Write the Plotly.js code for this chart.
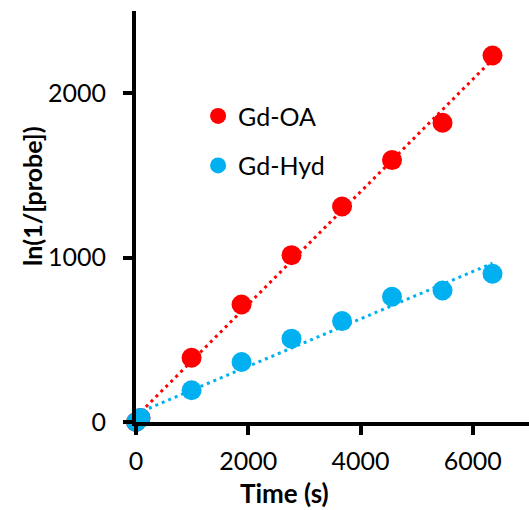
<!DOCTYPE html>
<html>
<head>
<meta charset="utf-8">
<script src="https://cdn.plot.ly/plotly-3.0.1.min.js"></script>
<style>html,body{margin:0;padding:0;background:#fff;}#chart{width:529px;height:510px;}</style>
</head>
<body>
<div id="chart"></div>
<script>
// Data
const timeS = [0, 80, 990, 1880, 2770, 3670, 4560, 5460, 6350];
const gdOA  = [0, 25, 391, 715, 1015, 1311, 1593, 1820, 2229];
const gdHyd = [0, 25, 193, 365, 507, 614, 762, 800, 902];
const seriesNames = ['Gd-OA', 'Gd-Hyd'];
const seriesColors = ['#FF0000', '#00B0F0'];
const xTicks = [0, 2000, 4000, 6000];
const yTicks = [0, 1000, 2000];
const xTitle = 'Time (s)';
const yTitle = 'ln(1/[probe])';

// Linear least-squares trendline computed from the data (as Excel does)
function fit(xs, ys) {
  const n = xs.length;
  let sx = 0, sy = 0, sxx = 0, sxy = 0;
  for (let i = 0; i < n; i++) { sx += xs[i]; sy += ys[i]; sxx += xs[i]*xs[i]; sxy += xs[i]*ys[i]; }
  const m = (n*sxy - sx*sy) / (n*sxx - sx*sx);
  const b = (sy - m*sx) / n;
  const x0 = Math.min(...xs), x1 = Math.max(...xs);
  return { x: [x0, x1], y: [m*x0 + b, m*x1 + b] };
}

const font = 'Lato, "Open Sans", sans-serif';
const traces = [];
[gdOA, gdHyd].forEach((ys, i) => {
  const f = fit(timeS, ys);
  traces.push({
    x: f.x, y: f.y, mode: 'lines', showlegend: false, hoverinfo: 'skip', cliponaxis: false,
    line: { color: seriesColors[i], width: 3, dash: '3px,4px' }
  });
});
[gdOA, gdHyd].forEach((ys, i) => {
  traces.push({
    x: timeS, y: ys, mode: 'markers', name: seriesNames[i], legendgroup: 'g' + i, cliponaxis: false,
    marker: { color: seriesColors[i], size: 20 }
  });
});

const L = 136, B = 88, T = 11;
const PW = 529 - L, PH = 510 - B - T;
const layout = {
  width: 529, height: 510,
  margin: { l: L, r: 0, t: T, b: B },
  paper_bgcolor: '#fff', plot_bgcolor: '#fff',
  font: { family: font, size: 25, color: '#000' },
  showlegend: true,
  legend: {
    x: 0.158, y: 0.80, xanchor: 'left', yanchor: 'top',
    font: { family: font, size: 25, color: '#000' },
    bgcolor: 'rgba(0,0,0,0)', tracegroupgap: 14, itemsizing: 'trace'
  },
  xaxis: {
    range: [0, 7000], tickvals: xTicks, ticktext: xTicks.map(String),
    showline: true, linecolor: '#000', linewidth: 4,
    ticks: 'outside', ticklen: 9, tickwidth: 4, tickcolor: '#000',
    showgrid: false, zeroline: false, ticklabelstandoff: 5,
    tickfont: { family: font, size: 25, color: '#000' }
  },
  yaxis: {
    range: [0, 2500], tickvals: yTicks, ticktext: yTicks.map(String),
    showline: true, linecolor: '#000', linewidth: 4,
    ticks: 'outside', ticklen: 9, tickwidth: 4, tickcolor: '#000',
    showgrid: false, zeroline: false, ticklabelstandoff: 12,
    tickfont: { family: font, size: 25, color: '#000' }
  },
  annotations: [
    { text: '<b>' + xTitle + '</b>', xref: 'paper', yref: 'paper',
      x: (284.5 - L) / PW, y: -(510 - (510 - B)) / PH, xanchor: 'center', yanchor: 'bottom',
      borderpad: 0, showarrow: false, font: { family: font, size: 26, color: '#000' } },
    { text: '<b>' + yTitle + '</b>', xref: 'paper', yref: 'paper', textangle: -90,
      x: -(L - 32) / PW, y: ((510 - B) - 196) / PH, xanchor: 'center', yanchor: 'middle',
      showarrow: false, font: { family: font, size: 25, color: '#000' } }
  ]
};

Plotly.newPlot('chart', traces, layout, { displayModeBar: false, staticPlot: true });
</script>
</body>
</html>
